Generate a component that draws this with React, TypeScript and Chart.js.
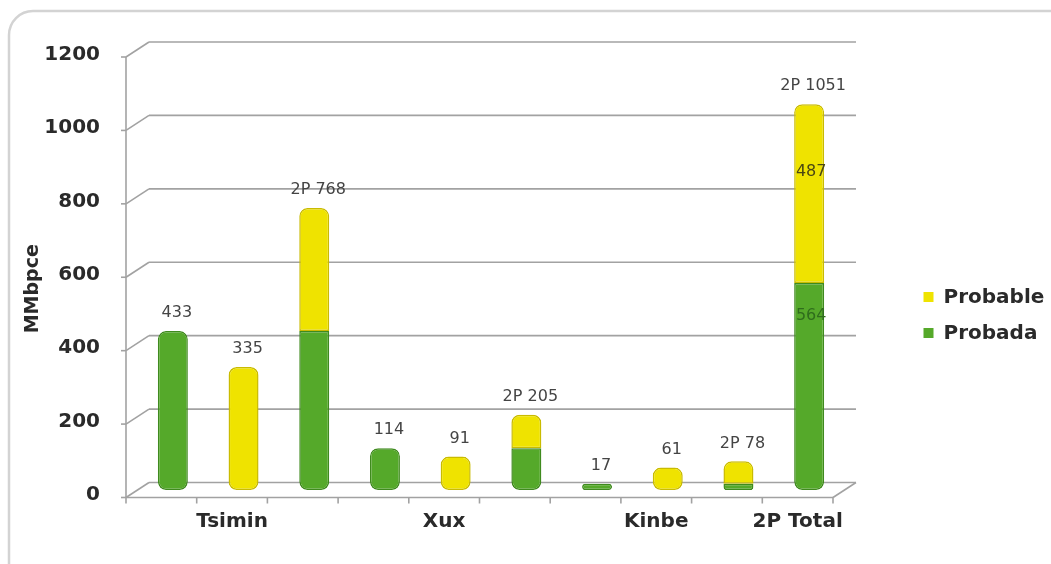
import React, { useEffect, useRef } from "react";
import { Chart, registerables } from "chart.js";

Chart.register(...registerables);

// ---- data ----
const categories = ["", "Tsimin", "", "", "Xux", "", "", "Kinbe", "", "2P Total"];
const probada = [433, 0, 433, 114, 0, 114, 17, 0, 17, 564];
const probable = [0, 335, 335, 0, 91, 91, 0, 61, 61, 487];
const seriesNames = ["Probada", "Probable"];
const yTickValues = [0, 200, 400, 600, 800, 1000, 1200];
const yAxisTitle = "MMbpce";
const segmentLabelCategory = "2P Total";

// ---- style ----
const FONT = "'DejaVu Sans', 'Noto Sans', sans-serif";
const GREEN = "#55a92a";
const GREEN_EDGE = "#3f8a1e";
const YELLOW = "#efe300";
const YELLOW_EDGE = "#c9bb00";
const GRID = "#a2a2a2";
const TEXT = "#2a2a2a";
const DX = 11.5; // pseudo 3D depth (half)
const DY = 7.5;

const frame = {
  id: "frame",
  beforeDraw(chart: any) {
    const { ctx, width, height } = chart;
    ctx.save();
    ctx.fillStyle = "#ffffff";
    ctx.fillRect(0, 0, width, height);
    const r = 24;
    const x0 = 9, y0 = 11;
    ctx.beginPath();
    ctx.moveTo(x0, height + 2);
    ctx.lineTo(x0, y0 + r);
    ctx.arcTo(x0, y0, x0 + r, y0, r);
    ctx.lineTo(width + 2, y0);
    ctx.strokeStyle = "#d3d3d3";
    ctx.lineWidth = 2.5;
    ctx.stroke();
    ctx.restore();
  },
};

const walls = {
  id: "walls",
  beforeDatasetsDraw(chart: any) {
    const { ctx, chartArea: ca, scales } = chart;
    const x = scales.x, y = scales.y;
    const leftF = ca.left - DX, rightF = ca.right - DX;
    const leftB = ca.left + DX, rightB = ca.right + DX;
    const line = (a: number, b: number, c: number, d: number) => {
      ctx.beginPath();
      ctx.moveTo(a, b);
      ctx.lineTo(c, d);
      ctx.stroke();
    };
    ctx.save();
    ctx.strokeStyle = GRID;
    ctx.lineWidth = 1.6;
    for (const v of yTickValues) {
      const py = y.getPixelForValue(v);
      line(leftB, py - DY, rightB, py - DY);
      line(leftF, py + DY, leftB, py - DY);
      line(leftF - 5, py + DY, leftF, py + DY);
    }
    const top = y.getPixelForValue(yTickValues[yTickValues.length - 1]);
    const py0 = y.getPixelForValue(0);
    line(leftF, top + DY, leftF, py0 + DY);
    line(leftF, py0 + DY, rightF, py0 + DY);
    line(rightF, py0 + DY, rightB, py0 - DY);
    const w = x.getPixelForValue(1) - x.getPixelForValue(0);
    for (let i = 0; i <= categories.length; i++) {
      const bx = x.getPixelForValue(0) - w / 2 + i * w - DX;
      line(bx, py0 + DY, bx, py0 + DY + 6);
    }
    ctx.restore();
  },
};

const valueLabels = {
  id: "valueLabels",
  afterDatasetsDraw(chart: any) {
    const { ctx, scales } = chart;
    const x = scales.x, y = scales.y;
    ctx.save();
    ctx.font = `16px ${FONT}`;
    ctx.textAlign = "center";
    ctx.textBaseline = "middle";
    for (let i = 0; i < categories.length; i++) {
      const a = probada[i], b = probable[i];
      const total = a + b;
      const text = a > 0 && b > 0 ? `2P ${total}` : `${total}`;
      const px = x.getPixelForValue(i);
      ctx.fillStyle = "#444444";
      ctx.fillText(text, px + 4, y.getPixelForValue(total) - 18);
      if (categories[i] === segmentLabelCategory) {
        const yt = y.getPixelForValue(total), ym = y.getPixelForValue(a), yb = y.getPixelForValue(0);
        ctx.fillStyle = "#4a4712";
        ctx.fillText(`${b}`, px + 2, yt + 0.38 * (ym - yt));
        ctx.fillStyle = "#2f6d1c";
        ctx.fillText(`${a}`, px + 2, ym + 0.16 * (yb - ym));
      }
    }
    ctx.restore();
  },
};

const sideTexts = {
  id: "sideTexts",
  afterDraw(chart: any) {
    const { ctx, chartArea: ca } = chart;
    ctx.save();
    // legend
    ctx.font = `bold 20px ${FONT}`;
    ctx.textBaseline = "middle";
    ctx.textAlign = "left";
    const items = chart.data.datasets.slice().reverse();
    const x0 = ca.right + 79;
    items.forEach((ds: any, k: number) => {
      const cy = 297 + k * 36;
      ctx.fillStyle = ds.backgroundColor;
      ctx.fillRect(x0, cy - 5, 10, 10);
      ctx.fillStyle = TEXT;
      ctx.fillText(ds.label, x0 + 20, cy + 1);
    });
    // y axis title
    ctx.translate(33, (ca.top + ca.bottom) / 2 + 19);
    ctx.rotate(-Math.PI / 2);
    ctx.textAlign = "center";
    ctx.font = `bold 19px ${FONT}`;
    ctx.fillText(yAxisTitle, 0, 0);
    ctx.restore();
  },
};

function radiusFor(seriesIndex: number) {
  return (c: any) => {
    const i = c.dataIndex;
    const r = 8;
    const below = seriesIndex === 1 && probada[i] > 0;
    const above = seriesIndex === 0 && probable[i] > 0;
    return {
      topLeft: above ? 0 : r,
      topRight: above ? 0 : r,
      bottomLeft: below ? 0 : r,
      bottomRight: below ? 0 : r,
    };
  };
}

export default function App() {
  const ref = useRef<HTMLCanvasElement>(null);
  useEffect(() => {
    if (!ref.current) return;
    const chart = new Chart(ref.current, {
      type: "bar",
      data: {
        labels: categories,
        datasets: [
          {
            label: seriesNames[0],
            data: probada.map((v) => (v > 0 ? v : null)),
            backgroundColor: GREEN,
            borderColor: GREEN_EDGE,
            borderWidth: 1.5,
            borderSkipped: false,
            borderRadius: radiusFor(0),
            barPercentage: 0.424,
            categoryPercentage: 1,
          },
          {
            label: seriesNames[1],
            data: probable.map((v) => (v > 0 ? v : null)),
            backgroundColor: YELLOW,
            borderColor: YELLOW_EDGE,
            borderWidth: 1.5,
            borderSkipped: false,
            borderRadius: radiusFor(1),
            barPercentage: 0.424,
            categoryPercentage: 1,
          },
        ],
      },
      options: {
        responsive: false,
        animation: false,
        devicePixelRatio: 1,
        layout: { padding: { left: 18, top: 46, right: 206.5, bottom: 0 } },
        plugins: { legend: { display: false }, tooltip: { enabled: false } },
        scales: {
          x: {
            stacked: true,
            grid: { display: false, drawTicks: false },
            border: { display: false },
            ticks: {
              autoSkip: false,
              maxRotation: 0,
              padding: 20,
              labelOffset: -DX,
              color: TEXT,
              font: { family: FONT, size: 20, weight: "bold" },
            },
            afterFit: (s: any) => {
              s.height = 74;
            },
          },
          y: {
            stacked: true,
            min: 0,
            max: 1200,
            grid: { display: false, drawTicks: false },
            border: { display: false },
            ticks: {
              stepSize: 200,
              padding: 37.5,
              labelOffset: 5,
              color: TEXT,
              font: { family: FONT, size: 20, weight: "bold" },
              callback: (v: any) => String(v),
            },
            title: { display: false, text: yAxisTitle },
            afterFit: (s: any) => {
              s.width = 119.5;
            },
          },
        },
      },
      plugins: [frame, walls, valueLabels, sideTexts],
    });
    return () => chart.destroy();
  }, []);
  return (
    <div style={{ position: "fixed", left: 0, top: 0, width: 1051, height: 564, background: "#fff" }}>
      <canvas ref={ref} width={1051} height={564} style={{ display: "block", width: 1051, height: 564 }} />
    </div>
  );
}
